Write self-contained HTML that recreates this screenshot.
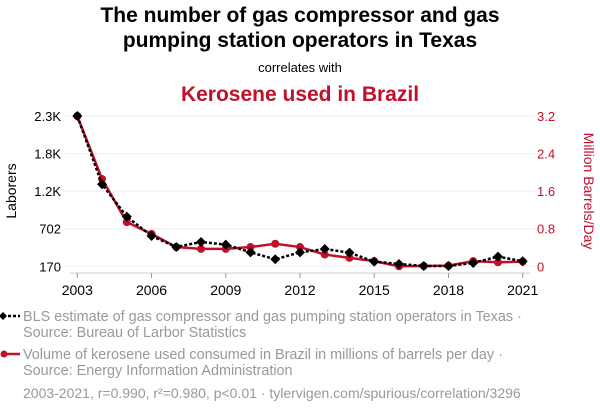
<!DOCTYPE html>
<html><head><meta charset="utf-8"><style>
body{margin:0;background:#fff;width:600px;height:414px;overflow:hidden;font-family:"Liberation Sans",sans-serif}
</style></head><body>
<svg id="c" width="600" height="414" xmlns="http://www.w3.org/2000/svg" font-family="Liberation Sans, sans-serif">
<text x="300" y="22" text-anchor="middle" font-size="21" font-weight="bold">The number of gas compressor and gas</text>
<text x="300" y="47" text-anchor="middle" font-size="21" font-weight="bold">pumping station operators in Texas</text>
<text x="300" y="72" text-anchor="middle" font-size="13">correlates with</text>
<text x="300" y="101" text-anchor="middle" font-size="21" font-weight="bold" fill="#c0102a">Kerosene used in Brazil</text>
<g id="grid"></g><g id="axes"></g><g id="marks"></g>
<text transform="translate(16,191) rotate(-90)" text-anchor="middle" font-size="14">Laborers</text>
<text transform="translate(584,191) rotate(90)" text-anchor="middle" font-size="14" fill="#c0102a">Million Barrels/Day</text>
<g>
<line x1="3" y1="316" x2="20" y2="316" stroke="#000" stroke-width="2.5" stroke-dasharray="3,2"/>
<path d="M3 312 L7 316 L3 320 L-1 316Z" fill="#000"/>
<text x="23" y="321" font-size="14.4" fill="#999">BLS estimate of gas compressor and gas pumping station operators in Texas ·</text>
<text x="23" y="337" font-size="14.4" fill="#999">Source: Bureau of Larbor Statistics</text>
</g>
<g>
<line x1="3" y1="354" x2="20" y2="354" stroke="#c0102a" stroke-width="2.5"/>
<circle cx="4" cy="354" r="3.5" fill="#c0102a"/>
<text x="23" y="359" font-size="14.4" fill="#999">Volume of kerosene used consumed in Brazil in millions of barrels per day ·</text>
<text x="23" y="375" font-size="14.4" fill="#999">Source: Energy Information Administration</text>
</g>
<text x="23" y="398" font-size="14" fill="#999">2003-2021, r=0.990, r²=0.980, p&lt;0.01 · tylervigen.com/spurious/correlation/3296</text>
</svg>
<script>
const years=[2003,2004,2005,2006,2007,2008,2009,2010,2011,2012,2013,2014,2015,2016,2017,2018,2019,2020,2021];
const laborers=[2298,1331,873,599,444,514,477,368,269,368,415,363,236,203,175,175,217,307,241];
const kerosene=[3.2,1.86,0.94,0.69,0.41,0.37,0.37,0.41,0.48,0.41,0.25,0.18,0.11,0,0.007,0.014,0.11,0.085,0.1];
const leftTicks=[170,702,1234,1766,2298];
const leftTickLabels=["170","702","1.2K","1.8K","2.3K"];
const rightTicks=[0,0.8,1.6,2.4,3.2];
const rightTickLabels=["0","0.8","1.6","2.4","3.2"];
const xTicks=[2003,2006,2009,2012,2015,2018,2021];

const NS="http://www.w3.org/2000/svg";
const X0=77.3,X1=522.7,YT=116,YB=266.3;
const x=v=>X0+(v-2003)/(2021-2003)*(X1-X0);
const yl=v=>YB-(v-170)/(2298-170)*(YB-YT);
const yr=v=>YB-v/3.2*(YB-YT);
function mk(tag,attrs,parent){const e=document.createElementNS(NS,tag);for(const k in attrs)e.setAttribute(k,attrs[k]);document.getElementById(parent).appendChild(e);return e;}
leftTicks.forEach((t,i)=>{
  const g=mk('line',{x1:65,x2:535,y1:yl(t),y2:yl(t),stroke:'#eee','stroke-width':1},'grid');
  
  
  const l=mk('text',{x:61,y:yl(t)+5,'text-anchor':'end','font-size':13},'axes');l.textContent=leftTickLabels[i];
  
  
});
rightTicks.forEach((t,i)=>{
  const l=mk('text',{x:537,y:yr(t)+5,'font-size':13,fill:'#c0102a'},'axes');l.textContent=rightTickLabels[i];
  
  
});
const ax=mk('line',{x1:70,x2:530,y1:273,y2:273,stroke:'#ccc'},'axes');


xTicks.forEach(t=>{
  mk('line',{x1:x(t),x2:x(t),y1:273,y2:278,stroke:'#999'},'axes');
  const l=mk('text',{x:x(t),y:295,'text-anchor':'middle','font-size':14},'axes');l.textContent=t;
  
  
});
const rp=mk('polyline',{points:years.map((yy,i)=>x(yy)+','+yr(kerosene[i])).join(' '),fill:'none',stroke:'#c0102a','stroke-width':2.5},'marks');


years.forEach((yy,i)=>{
  const c=mk('circle',{cx:x(yy),cy:yr(kerosene[i]),r:4,fill:'#c0102a'},'marks');
  
  
});
const bp=mk('polyline',{points:years.map((yy,i)=>x(yy)+','+yl(laborers[i])).join(' '),fill:'none',stroke:'#000','stroke-width':2.5,'stroke-dasharray':'3,2'},'marks');


years.forEach((yy,i)=>{
  const cx=x(yy),cy=yl(laborers[i]);
  const d=mk('path',{d:`M${cx} ${cy-5}L${cx+5} ${cy}L${cx} ${cy+5}L${cx-5} ${cy}Z`,fill:'#000'},'marks');
  
  
});
</script>
</body></html>
